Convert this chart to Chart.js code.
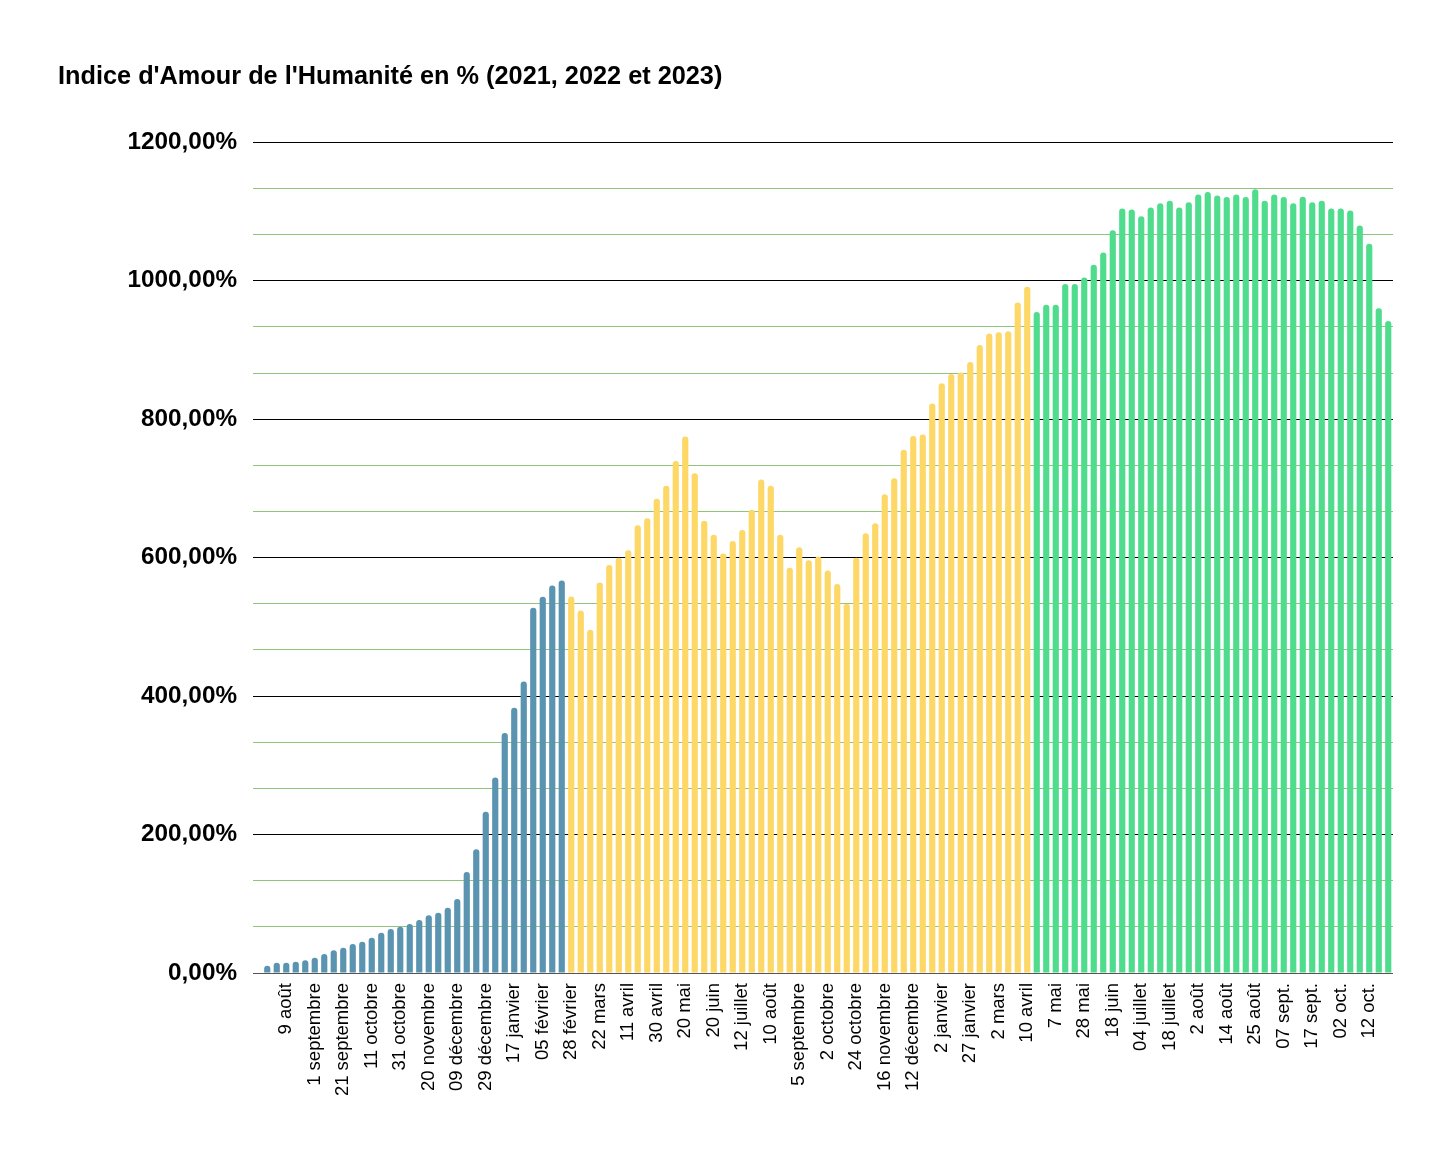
<!DOCTYPE html>
<html>
<head>
<meta charset="utf-8">
<script src="https://cdn.jsdelivr.net/npm/chart.js@4.4.1/dist/chart.umd.min.js"></script>
<style>
  html, body { margin: 0; padding: 0; background: #fff; }
  #wrap { width: 1452px; height: 1164px; }
</style>
</head>
<body>
<div id="wrap"><canvas id="chart" width="1452" height="1164"></canvas></div>
<script>
const FONT = '"Liberation Sans", Arial, Helvetica, sans-serif';

// one label every third week, starting at slot 3
const tickLabels = [
  '9 août', '1 septembre', '21 septembre', '11 octobre', '31 octobre', '20 novembre',
  '09 décembre', '29 décembre', '17 janvier', '05 février', '28 février', '22 mars',
  '11 avril', '30 avril', '20 mai', '20 juin', '12 juillet', '10 août', '5 septembre',
  '2 octobre', '24 octobre', '16 novembre', '12 décembre', '2 janvier', '27 janvier',
  '2 mars', '10 avril', '7 mai', '28 mai', '18 juin', '04 juillet', '18 juillet',
  '2 août', '14 août', '25 août', '07 sept.', '17 sept.', '02 oct.', '12 oct.'
];

const values2021 = [
  10.5, 14.9, 14.9, 16.3, 18.3, 22.1, 27.4, 32.8, 36.5, 41.9, 45.2, 51.0, 58.2, 63.5,
  66.9, 70.8, 76.5, 83.3, 87.1, 94.3, 106.9, 145.8, 178.6, 232.9, 282.6, 346.6, 383.1,
  421.2, 527.5, 543.4, 559.8, 567.0
];
const values2022 = [
  544, 523.7, 496, 564.3, 589.3, 600, 610.7, 646.9, 657.1, 685.3, 704, 739.7, 774.9,
  722.1, 653.3, 633.1, 605.9, 624, 640, 669.3, 713.1, 704, 633.1, 585.6, 614.9, 596.3,
  601.6, 581.3, 562.1, 533.3, 600, 635.3, 649.9, 691.7, 714.9, 756.0, 775.9, 777.9,
  822.9, 852.1, 865.4, 867.4, 882.6, 907.2, 923.7, 925.7, 927.1, 968.8, 991.4
];
const values2023 = [
  954.9, 965.5, 965.5, 995.4, 995.4, 1004.6, 1023.2, 1041.0, 1073.1, 1104.5, 1103.0,
  1093.3, 1106.0, 1111.9, 1115.7, 1106.0, 1113.4, 1124.6, 1128.4, 1123.1, 1120.9,
  1124.6, 1120.9, 1132.1, 1115.7, 1124.6, 1120.9, 1111.9, 1121.6, 1113.4, 1115.7,
  1104.5, 1104.5, 1101.5, 1079.9, 1053.7, 960.4, 941.8
];

const yMax = 1200;
const yMajor = 200;
const yTicks = [];
for (let k = 0; k <= 18; k++) yTicks.push(k * yMajor / 3);

// slot 0 is empty, then the three years follow each other
const total = 1 + values2021.length + values2022.length + values2023.length;
const categories = [];
for (let i = 0; i < total; i++) {
  categories.push(i > 0 && i % 3 === 0 ? (tickLabels[i / 3 - 1] || '') : '');
}

function place(values, start) {
  const arr = new Array(total).fill(null);
  values.forEach((v, i) => { arr[start + i] = v; });
  return arr;
}

const start2022 = 1 + values2021.length;
const start2023 = start2022 + values2022.length;

const barStyle = {
  barPercentage: 0.65,
  categoryPercentage: 1,
  borderRadius: 3,
  borderSkipped: 'start',
  grouped: false
};

new Chart(document.getElementById('chart'), {
  type: 'bar',
  data: {
    labels: categories,
    datasets: [
      Object.assign({ label: '2021', data: place(values2021, 1), backgroundColor: '#5a94b1' }, barStyle),
      Object.assign({ label: '2022', data: place(values2022, start2022), backgroundColor: '#fdd866' }, barStyle),
      Object.assign({ label: '2023', data: place(values2023, start2023), backgroundColor: '#4fdc8d' }, barStyle)
    ]
  },
  options: {
    responsive: false,
    animation: false,
    devicePixelRatio: 1,
    layout: { padding: { left: 58, right: 59, top: 0, bottom: 0 } },
    plugins: {
      legend: { display: false },
      tooltip: { enabled: false },
      title: {
        display: true,
        text: "Indice d'Amour de l'Humanité en % (2021, 2022 et 2023)",
        align: 'start',
        color: '#000',
        font: { family: FONT, size: 25.3, weight: 'bold' },
        padding: { top: 62, bottom: 50 }
      }
    },
    scales: {
      x: {
        grid: { display: false, drawTicks: false },
        border: { display: false },
        afterFit: s => { s.height = 191; },
        ticks: {
          autoSkip: false,
          minRotation: 90,
          maxRotation: 90,
          padding: 10,
          color: '#000',
          font: { family: FONT, size: 18.5 }
        }
      },
      y: {
        min: 0,
        max: yMax,
        afterBuildTicks: s => { s.ticks = yTicks.map(v => ({ value: v })); },
        afterFit: s => { s.width = 195; },
        border: { display: false },
        grid: {
          drawTicks: false,
          lineWidth: 1,
          color: ctx => {
            const v = Math.round(ctx.tick.value);
            if (v === 0) return '#555';
            return v % yMajor === 0 ? '#000' : '#8fc47a';
          }
        },
        ticks: {
          autoSkip: false,
          padding: 16,
          color: '#000',
          font: { family: FONT, size: 24.3, weight: 'bold' },
          callback: v => {
            const r = Math.round(v);
            return r % yMajor === 0 ? r.toFixed(2).replace('.', ',') + '%' : '';
          }
        }
      }
    }
  }
});
</script>
</body>
</html>
